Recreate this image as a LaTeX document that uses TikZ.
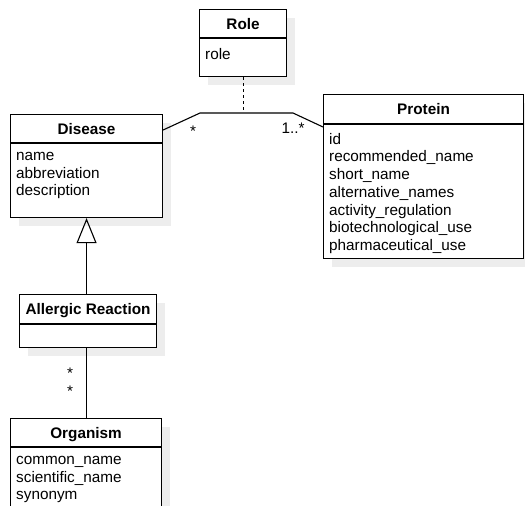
\documentclass[tikz,border=0pt]{standalone}
\usepackage{fontspec}
\setmainfont{Liberation Sans}
\usetikzlibrary{arrows.meta,shadows}
\newcommand\umlfont{\fontsize{15.3}{17.7}\selectfont}
\begin{document}
\begin{tikzpicture}[x=1pt,y=-1pt,
  classbox/.style={draw, line width=1.1pt, fill=white, inner sep=0pt, anchor=north west,
    general shadow={fill=black!7, shadow xshift=8pt, shadow yshift=-8pt}},
  title/.style={font=\umlfont\bfseries, anchor=base, inner sep=0pt},
  attrs/.style={font=\umlfont, align=left, anchor=north west, inner sep=0pt,
    execute at begin node=\strut},
  mult/.style={font=\umlfont, anchor=base, inner sep=0pt},
  divider/.style={line width=1.1pt},
  assoc/.style={line width=1.1pt},
]
\useasboundingbox (0,0) rectangle (525,506);
\clip (0,0) rectangle (525,506);

% Role
\node[classbox, minimum width=87pt, minimum height=67pt] (role) at (199,9) {};
\draw[divider] ([yshift=-29pt]role.north west) -- ([yshift=-29pt]role.north east);
\node[title] (roleT) at ([yshift=-20pt]role.north) {Role};
\node[attrs] (roleA) at ([xshift=6pt,yshift=-38pt]role.north west) {role};

% Disease
\node[classbox, minimum width=152pt, minimum height=103pt] (disease) at (10,114) {};
\draw[divider] ([yshift=-29pt]disease.north west) -- ([yshift=-29pt]disease.north east);
\node[title] (diseaseT) at ([yshift=-20pt]disease.north) {Disease};
\node[attrs] (diseaseA) at ([xshift=6pt,yshift=-38pt]disease.north west)
  {name\\abbreviation\\description};

% Protein
\node[classbox, minimum width=200pt, minimum height=164pt] (protein) at (323,94) {};
\draw[divider] ([yshift=-30pt]protein.north west) -- ([yshift=-30pt]protein.north east);
\node[title] (proteinT) at ([yshift=-20.5pt]protein.north) {Protein};
\node[attrs] (proteinA) at ([xshift=6pt,yshift=-39pt]protein.north west)
  {id\\recommended\_name\\short\_name\\alternative\_names\\activity\_regulation\\biotechnological\_use\\pharmaceutical\_use};

% Allergic Reaction
\node[classbox, minimum width=137pt, minimum height=53pt] (allergic) at (19,294) {};
\draw[divider] ([yshift=-30pt]allergic.north west) -- ([yshift=-30pt]allergic.north east);
\node[title] (allergicT) at ([yshift=-20.5pt]allergic.north) {Allergic Reaction};

% Organism
\node[classbox, minimum width=151pt, minimum height=110pt] (organism) at (10,418) {};
\draw[divider] ([yshift=-29pt]organism.north west) -- ([yshift=-29pt]organism.north east);
\node[title] (organismT) at ([yshift=-20pt]organism.north) {Organism};
\node[attrs] (organismA) at ([xshift=6pt,yshift=-38pt]organism.north west)
  {common\_name\\scientific\_name\\synonym};

% Disease -- Protein association with Role as association class
\coordinate (a1) at (200,113);
\coordinate (a2) at (293,113);
\draw[assoc] ([yshift=-16pt]disease.north east) -- (a1) -- (a2) -- ([yshift=-33pt]protein.north west);
\draw[assoc, dash pattern=on 3pt off 3pt] (role.south) -- (role.south |- a1);
\node[mult] (m1) at (193,136) {*};
\node[mult] (m2) at (293,133) {1..*};

% Generalization: Allergic Reaction is a Disease
\draw[assoc, -{Triangle[open, width=20pt, length=25pt, line width=1.1pt]}]
  (disease.south |- allergic.north) -- (disease.south);

% Allergic Reaction -- Organism association
\draw[assoc] (allergic.south -| organism.north) -- (organism.north);
\node[mult] (m3) at (70,378) {*};
\node[mult] (m4) at (70,396) {*};
\end{tikzpicture}
\end{document}
